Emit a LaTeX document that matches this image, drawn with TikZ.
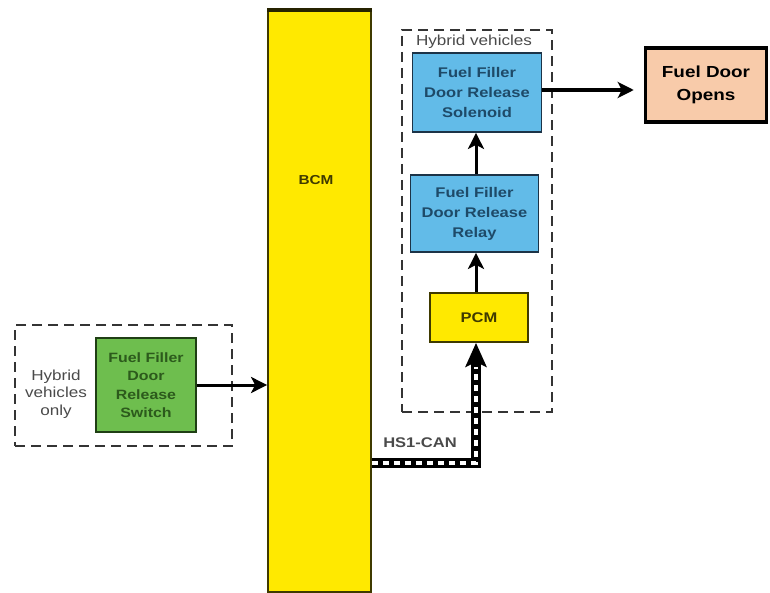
\documentclass[tikz,border=0pt]{standalone}
\usepackage{fontspec}
\setmainfont{Liberation Sans}[FakeStretch=1.18]
\usetikzlibrary{arrows.meta}

\definecolor{bcmyellow}{HTML}{FFE900}
\definecolor{olivetext}{HTML}{3F3A00}
\definecolor{switchgreen}{HTML}{6EBE4E}
\definecolor{greentext}{HTML}{2C5A1C}
\definecolor{relayblue}{HTML}{62BBE8}
\definecolor{bluetext}{HTML}{1E4A68}
\definecolor{blueedge}{HTML}{1C3347}
\definecolor{doorpeach}{HTML}{F8CBAA}
\definecolor{notegray}{HTML}{4A4A4A}

\tikzset{
  unit/.style={draw, align=center, inner sep=0pt, line width=1.8pt},
  bluebox/.style={unit, fill=relayblue, draw=blueedge, text=bluetext,
    font=\bfseries\fontsize{14}{20}\selectfont},
  grouping/.style={draw=notegray!70!black, dash pattern=on 10pt off 6pt,
    line width=1.9pt, inner sep=0pt},
  note/.style={text=notegray, font=\fontsize{14.5}{17.5}\selectfont, align=center},
  flow/.style={-{Stealth[length=16pt,width=16pt,inset=4pt]}, line width=3pt},
}

\begin{document}
\begin{tikzpicture}[x=1pt, y=-1pt]
  \useasboundingbox (0,0) rectangle (770,593);

  % left group
  \node (leftgroup) [grouping, minimum width=217pt, minimum height=121pt] at (123.5,385.5) {};
  \node (leftnote) [note] at (56,394) {Hybrid\\vehicles\\only};
  \node (switch) [unit, fill=switchgreen, draw=greentext!70!black, text=greentext,
    minimum width=100pt, minimum height=94pt,
    font=\bfseries\fontsize{13.5}{18.5}\selectfont] at (146,385) {Fuel Filler\\Door\\Release\\Switch};

  % BCM
  \node (bcm) [unit, fill=bcmyellow, draw=olivetext, minimum width=103pt,
    minimum height=581pt] at (319.5,301.5) {};
  \draw [line width=4pt, olivetext!60!black] (bcm.north west) -- (bcm.north east);
  \node (bcmtext) [text=olivetext, font=\bfseries\fontsize{13}{15}\selectfont] at (316,180) {BCM};

  % right group
  \node (rightgroup) [grouping, minimum width=150pt, minimum height=382pt] at (477,221) {};
  \node (rightnote) [note] at (474,42) {Hybrid vehicles};
  \node (solenoid) [bluebox, minimum width=129pt, minimum height=79pt] at (477,92.5)
    {Fuel Filler\\Door Release\\Solenoid};
  \node (relay) [bluebox, minimum width=128pt, minimum height=77pt] at (474.5,213.5)
    {Fuel Filler\\Door Release\\Relay};
  \node (pcm) [unit, fill=bcmyellow, draw=olivetext, text=olivetext,
    minimum width=98pt, minimum height=49pt,
    font=\bfseries\fontsize{14}{16}\selectfont] at (479,317.5) {PCM};

  \node (opens) [draw, line width=3.5pt, fill=doorpeach, align=center, inner sep=0pt,
    minimum width=121pt, minimum height=74pt,
    font=\bfseries\fontsize{16}{23}\selectfont] at (706,85) {Fuel Door\\Opens};

  % connections
  \draw [flow] (switch) -- (switch -| bcm.west);
  \draw [flow] (relay.north -| 476,0) -- (solenoid.south -| 476,0);
  \draw [flow] (pcm.north -| 476,0) -- (relay.south -| 476,0);
  \draw [flow, line width=4pt, shorten >=10pt] (solenoid.east |- 0,90) -- (opens.west |- 0,90);

  % HS1-CAN
  \coordinate (canturn) at (pcm.south |- 0,463);
  \coordinate (canend) at ([yshift=-24pt]pcm.south);
  \draw [line width=10pt, line join=miter,
    -{Stealth[length=24pt,width=21pt,inset=5pt]}] (bcm.east |- canturn) -- ([xshift=-3pt]canturn) -- ([xshift=-3pt]pcm.south);
  \draw [white, line width=3.5pt, dash pattern=on 6pt off 5pt]
    (bcm.east |- canturn) -- ([xshift=-3pt]canturn) -- ([xshift=-3pt]canend);
  \node (canlabel) [text=notegray, font=\bfseries\fontsize{14}{16}\selectfont] at (420,443) {HS1-CAN};
\end{tikzpicture}
\end{document}
